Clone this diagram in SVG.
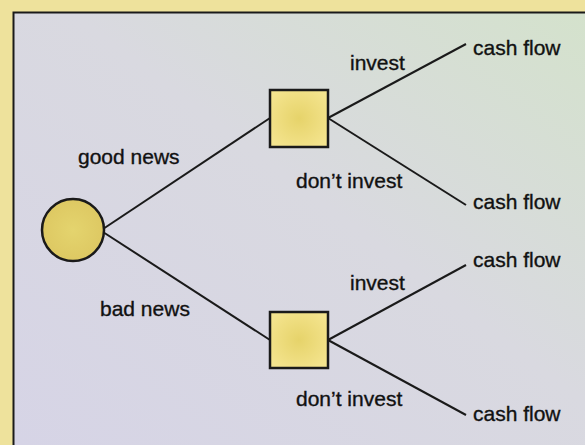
<svg xmlns="http://www.w3.org/2000/svg" width="585" height="445" viewBox="0 0 585 445">
  <defs>
    <linearGradient id="panel" x1="0" y1="1" x2="1" y2="0">
      <stop offset="0" stop-color="#d6d4e6"/>
      <stop offset="0.55" stop-color="#d9d9e0"/>
      <stop offset="1" stop-color="#d4e2cc"/>
    </linearGradient>
    <radialGradient id="nodeFill" cx="0.5" cy="0.5" r="0.6">
      <stop offset="0" stop-color="#e6d36a"/>
      <stop offset="1" stop-color="#f4e48e"/>
    </radialGradient>
    <radialGradient id="chanceFill" cx="0.5" cy="0.5" r="0.6">
      <stop offset="0" stop-color="#e4d46e"/>
      <stop offset="1" stop-color="#dcc660"/>
    </radialGradient>
    <style>
      .edge { stroke: #1a1a1a; stroke-width: 2; fill: none; }
      .node { stroke: #1a1a1a; stroke-width: 2.5; }
      .lbl { font-family: "Liberation Sans", Arial, sans-serif; font-size: 21px; fill: #111; stroke: #111; stroke-width: 0.35; }
    </style>
  </defs>

  <!-- frame -->
  <rect x="0" y="0" width="585" height="445" fill="#eee29c"/>
  <rect x="13" y="12" width="572" height="433" fill="url(#panel)"/>
  <path d="M13.5 445 V12.5 H585" stroke="#1a1a1a" stroke-width="2" fill="none"/>

  <!-- connectors -->
  <g id="connectors">
    <line class="edge" x1="103" y1="229" x2="270" y2="118"/>
    <line class="edge" x1="103" y1="232" x2="270" y2="340"/>
    <line class="edge" x1="328" y1="118" x2="466" y2="44"/>
    <line class="edge" x1="328" y1="118" x2="466" y2="205"/>
    <line class="edge" x1="328" y1="340" x2="466" y2="265"/>
    <line class="edge" x1="328" y1="340" x2="466" y2="415"/>
  </g>

  <!-- chance node -->
  <g id="news">
    <circle class="node" cx="73" cy="230" r="31" fill="url(#chanceFill)"/>
  </g>

  <!-- decision nodes -->
  <g id="decision-good">
    <rect class="node" x="270" y="90" width="58" height="57" fill="url(#nodeFill)"/>
  </g>
  <g id="decision-bad">
    <rect class="node" x="270" y="312" width="58" height="56" fill="url(#nodeFill)"/>
  </g>

  <!-- branch labels -->
  <g id="labels">
    <text class="lbl" x="78" y="164">good news</text>
    <text class="lbl" x="100" y="316">bad news</text>
    <text class="lbl" x="350" y="70">invest</text>
    <text class="lbl" x="296" y="188">don’t invest</text>
    <text class="lbl" x="350" y="290">invest</text>
    <text class="lbl" x="296" y="406">don’t invest</text>
  </g>

  <!-- outcomes -->
  <g id="outcome-1"><text class="lbl" x="473" y="55">cash flow</text></g>
  <g id="outcome-2"><text class="lbl" x="473" y="209">cash flow</text></g>
  <g id="outcome-3"><text class="lbl" x="473" y="267">cash flow</text></g>
  <g id="outcome-4"><text class="lbl" x="473" y="421">cash flow</text></g>
</svg>
